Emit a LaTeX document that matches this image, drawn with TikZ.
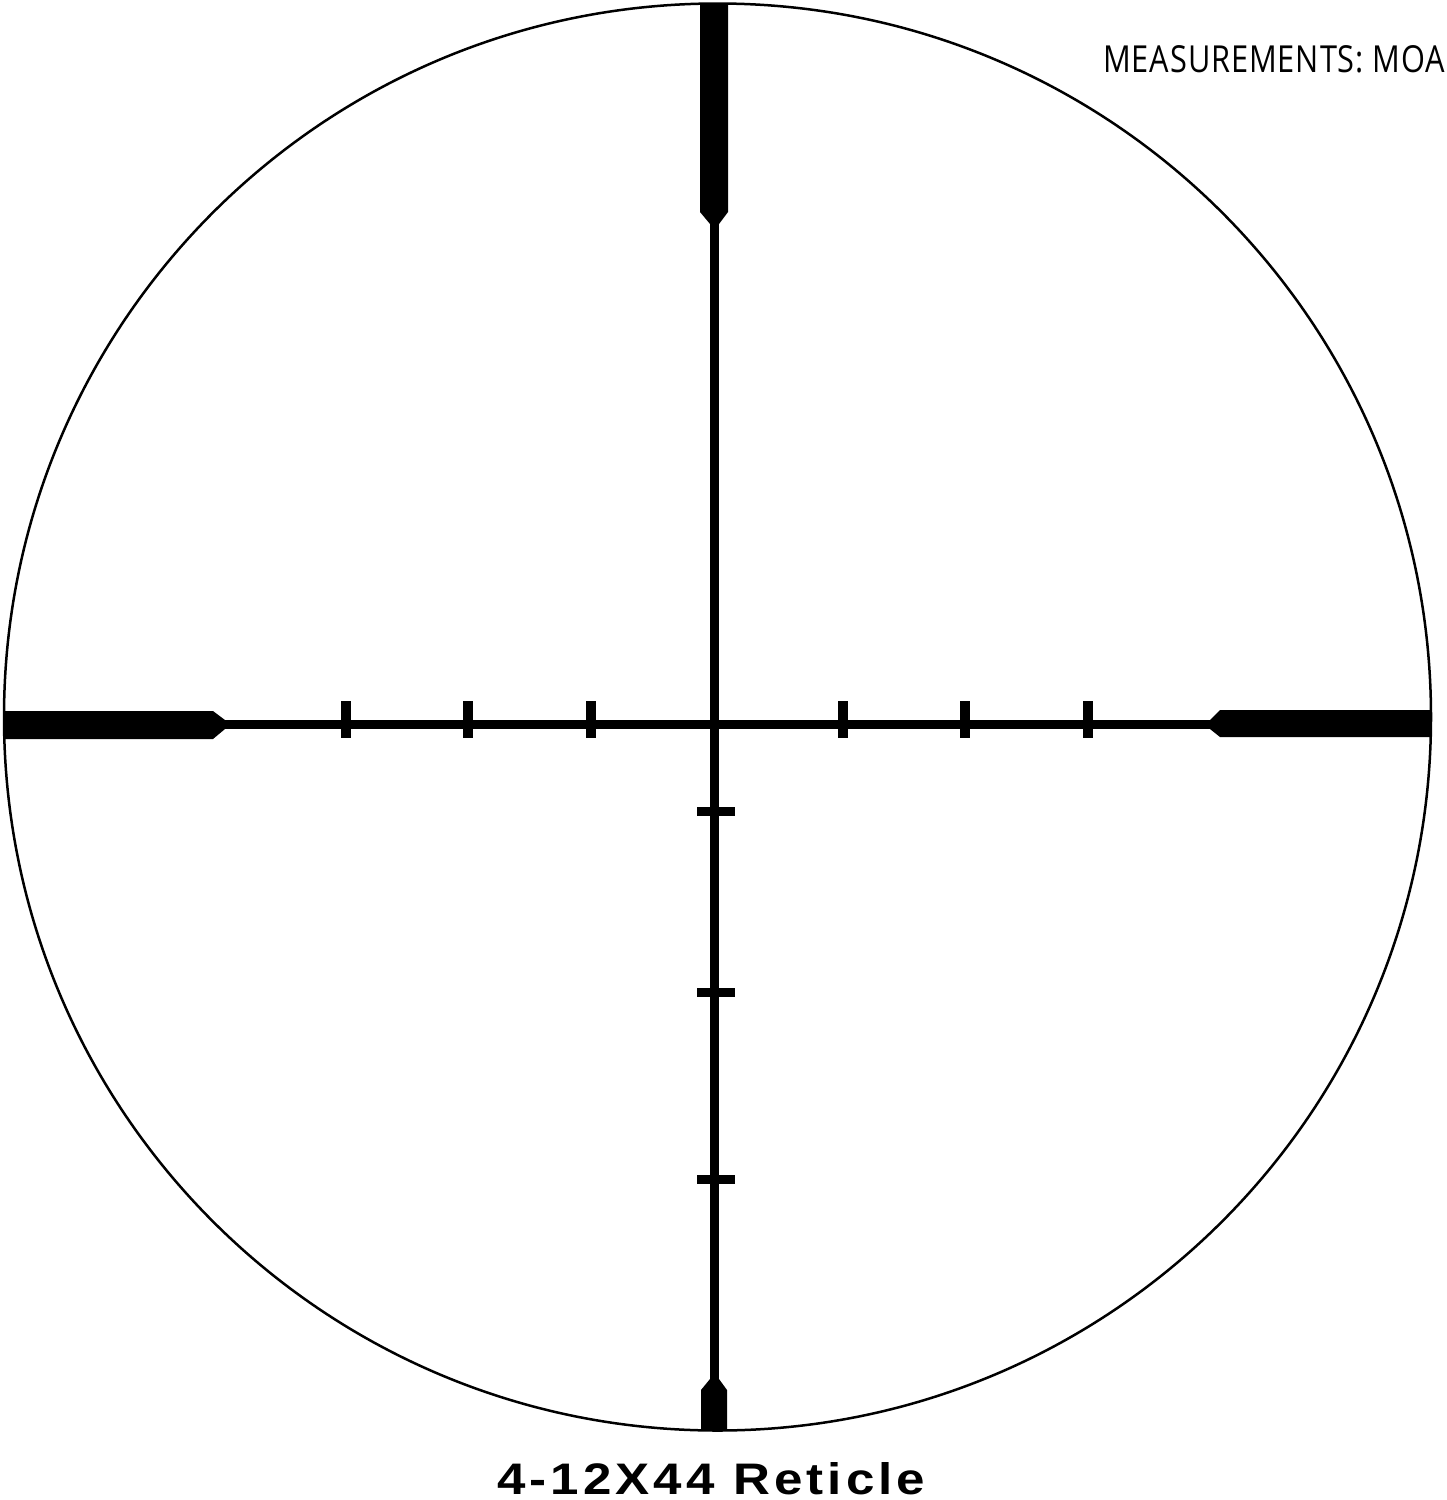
\documentclass[tikz,border=0pt]{standalone}
\usepackage{fontspec}
\setsansfont{Open Sans}
\newfontfamily\labelfont[LetterSpace=8]{Liberation Sans}
\newfontfamily\moafont[LetterSpace=3]{Open Sans}
\begin{document}
\begin{tikzpicture}[x=1pt,y=-1pt,
  ink/.style={fill=black},
  hmark/.style={fill=black},
  label/.style={anchor=base west,inner sep=0pt}]
\useasboundingbox (0,0) rectangle (1447,1500);
\coordinate (c) at (717.5,717);
\begin{scope}
  \clip (c) circle (713.5);
  % thin crosshair lines
  \fill[ink] (710,222) rectangle (719,1382);
  \fill[ink] (223,720) rectangle (1212,729);
  % top post
  \fill[ink] (700,0) -- (728,0) -- (728,212) -- (719,224) -- (710,224) -- (700,212) -- cycle;
  % bottom post
  \fill[ink] (701,1440) -- (701,1390) -- (710,1379) -- (719,1379) -- (727,1390) -- (727,1440) -- cycle;
  % left bar
  \fill[ink] (0,711) -- (213,711) -- (225,720) -- (225,729) -- (213,739) -- (0,739) -- cycle;
  % right bar
  \fill[ink] (1447,710) -- (1220,710) -- (1210,720) -- (1210,729) -- (1220,737) -- (1447,737) -- cycle;
\end{scope}
% horizontal ticks
\foreach \x in {346,468,591,843,965,1088}
  \fill[hmark] (\x-5,701) rectangle (\x+5,738);
% vertical ticks
\foreach \y in {811,992,1179}
  \fill[hmark] (697,\y-4.5) rectangle (735,\y+4.5);
% outer circle
\draw[line width=2.5pt] (c) circle (713.5);
% labels
\node[label] (moa) at (1103,72) {\resizebox{342pt}{27pt}{\moafont MEASUREMENTS: MOA}};
\node[label] (title) at (497,1494) {\resizebox{428pt}{32pt}{\labelfont\bfseries 4-12X44 Reticle}};
\end{tikzpicture}
\end{document}
